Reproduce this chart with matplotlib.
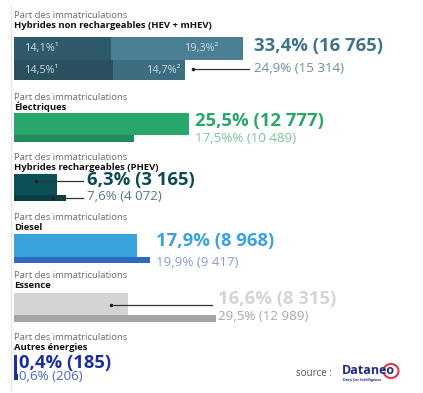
import matplotlib.pyplot as plt
from matplotlib.patches import Arc

plt.rcParams['font.family'] = ['Open Sans', 'DejaVu Sans']

# share of registrations (%), current period vs previous period
categories = ['Hybrides non rechargeables (HEV + mHEV)', 'Électriques',
              'Hybrides rechargeables (PHEV)', 'Diesel', 'Essence', 'Autres énergies']
share_now = [33.4, 25.5, 6.3, 17.9, 16.6, 0.4]
count_now = ['16 765', '12 777', '3 165', '8 968', '8 315', '185']
share_prev = [24.9, 17.5, 7.6, 19.9, 29.5, 0.6]
count_prev = ['15 314', '10 489', '4 072', '9 417', '12 989', '206']
prev_fmt = ['{}%', '{}%%', '{}%', '{}%', '{}%', '{}%']

# HEV split (1 = HEV, 2 = mHEV)
hev_split_now = [14.1, 19.3]
hev_split_prev = [14.5, 14.7]

main_colors = ['#4b7f94', '#27a86a', '#0c4f57', '#3aa2dc', '#d4d4d4', '#1c2f9c']
prev_colors = ['#3c6d80', '#1f8a5d', '#073f46', '#2e6cc0', '#a3a3a3', '#1c2f9c']
big_colors = ['#3f7388', '#27a86a', '#0c4b55', '#3aa2dc', '#d4d4d4', '#1c2f9c']
small_colors = ['#6d8c99', '#7bc49c', '#4e7b81', '#8c9ad6', '#a8a8a8', '#4a66c2']

W, H = 423, 393
PX = 6.85  # pixels per percent
X0 = 14    # bar start in pixels


def px(x):
    return (x - X0) / PX


def fr(v):
    return f'{v:.1f}'.replace('.', ',')


fig = plt.figure(figsize=(W / 100, H / 100), dpi=100)
ax = fig.add_axes([0, 0, 1, 1])
ax.set_xlim(px(0), px(W))
ax.set_ylim(H, 0)
ax.axis('off')

# faint left rule
ax.plot([px(10.5), px(10.5)], [5, 390], color='#e6e6e6', lw=1)

# group layout
tops = [16, 97, 157, 217, 276, 337]
main_bar = [(37, 60), (113, 135), (174, 195), (234, 257), (293, 315), (355, 374)]
prev_bar = [(60, 80), (135, 142), (195, 201), (257, 263), (315, 322), (374, 380)]
big_y = [46, 121, 180, 241, 299, 363]
small_y = [68, 138, 197, 263, 317, 377]
big_x = [254, 195, 87, 156, 218, 19]

for i, cat in enumerate(categories):
    ax.text(px(14), tops[i], 'Part des immatriculations', fontsize=6.8,
            color='#6b6b6b', va='center')
    ax.text(px(14), tops[i] + 10, cat, fontsize=6.8, fontweight='bold',
            color='#111111', va='center')

    t, b = main_bar[i]
    pt, pb = prev_bar[i]
    if i == 0:
        # stacked HEV / mHEV segments
        ax.barh((t + b) / 2, hev_split_now[0], height=b - t, left=0,
                color='#2f5a6b', align='center')
        ax.barh((t + b) / 2, share_now[0] - hev_split_now[0], height=b - t,
                left=hev_split_now[0], color=main_colors[0], align='center')
        ax.barh((pt + pb) / 2, hev_split_prev[0], height=pb - pt, left=0,
                color='#2a4f5e', align='center')
        ax.barh((pt + pb) / 2, share_prev[0] - hev_split_prev[0], height=pb - pt,
                left=hev_split_prev[0], color=prev_colors[0], align='center')
        ax.text(px(25), (t + b) / 2, fr(hev_split_now[0]) + '%¹',
                color='#c9d9df', fontsize=7.8, va='center')
        ax.text(px(25), (pt + pb) / 2, fr(hev_split_prev[0]) + '%¹',
                color='#c9d9df', fontsize=7.8, va='center')
        ax.text(px(219), (t + b) / 2, fr(hev_split_now[1]) + '%²',
                color='#c9d9df', fontsize=7.8, va='center', ha='right')
        ax.text(px(181), (pt + pb) / 2, fr(hev_split_prev[1]) + '%²',
                color='#c9d9df', fontsize=7.8, va='center', ha='right')
    else:
        ax.barh((pt + pb) / 2, share_prev[i], height=pb - pt, left=0,
                color=prev_colors[i], align='center')
        ax.barh((t + b) / 2, share_now[i], height=b - t, left=0,
                color=main_colors[i], align='center')

    big = fr(share_now[i]) + f'% ({count_now[i]})'
    small = prev_fmt[i].format(fr(share_prev[i])) + f' ({count_prev[i]})'
    ax.text(px(big_x[i]), big_y[i], big, fontsize=13.3, fontweight='bold',
            color=big_colors[i], va='center')
    ax.text(px(big_x[i]), small_y[i], small, fontsize=9.6,
            color=small_colors[i], va='center')

# leader lines
leaders = [((193, 69), (249, 69)), ((36, 181), (83, 181)), ((53, 198), (83, 198)),
           ((111, 305), (212, 305))]
for (x1, y1), (x2, y2) in leaders:
    ax.plot([px(x1), px(x2)], [y1, y2], color='#333333', lw=0.9)
    ax.plot(px(x1), y1, 'o', color='#222222', ms=1.6)

# source
ax.text(px(296), 374, 'source :', fontsize=7, color='#555555', va='center')
ax.text(px(342), 370, 'Dataneo', fontsize=9, fontweight='bold', color='#1f2a8a', va='center')
ax.text(px(343), 380, 'Data Car Intelligence', fontsize=2.6, fontweight='bold',
        color='#1f2a8a', va='center')
ax.add_patch(Arc((px(391), 371), 15 / PX, 14, theta1=-140, theta2=140,
                 color='#e8334a', lw=1.5))

fig.savefig('out.png', dpi=100)
